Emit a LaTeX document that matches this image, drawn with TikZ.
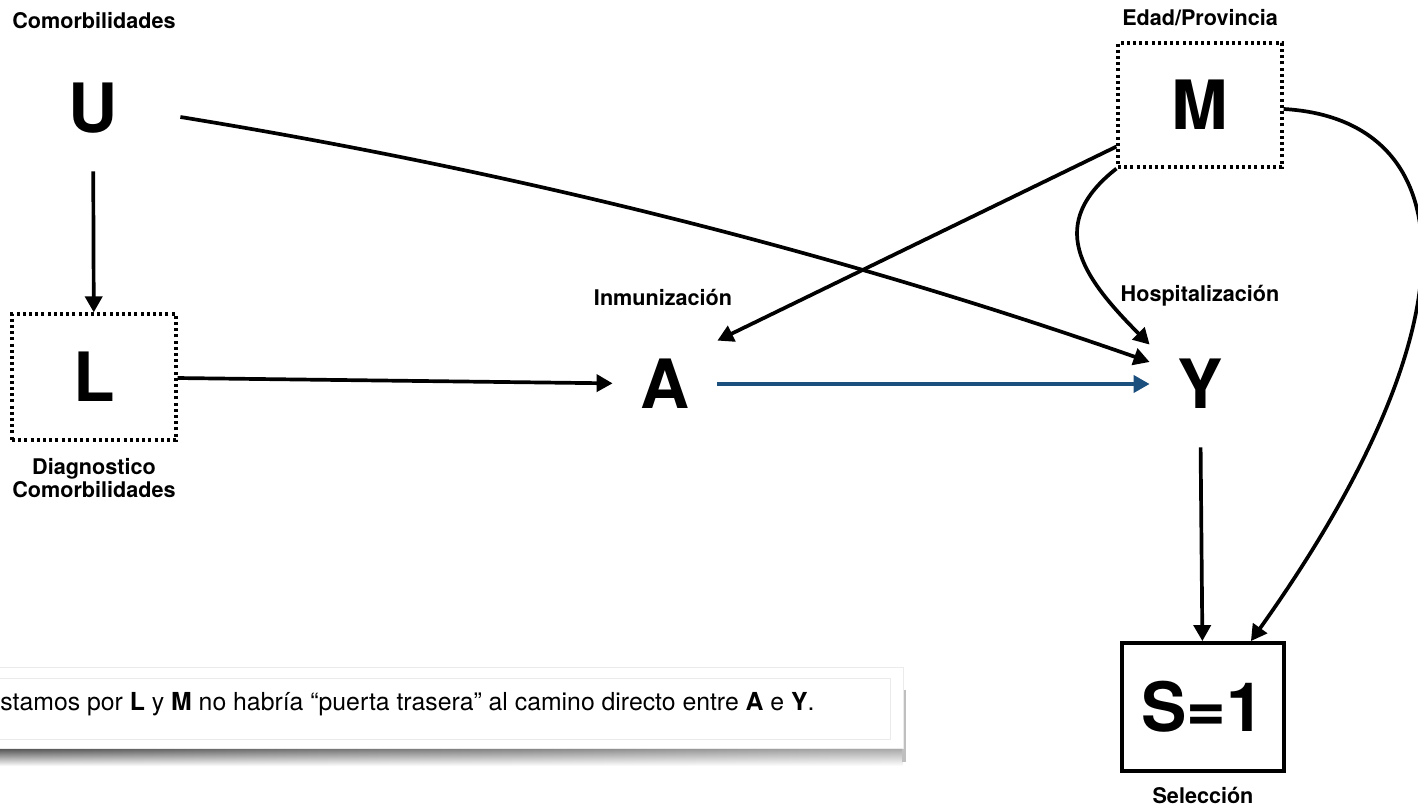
\documentclass[tikz,border=0pt]{standalone}
\usepackage{fontspec}
\setmainfont{TeX Gyre Heros}
\usetikzlibrary{positioning, calc, arrows.meta, fadings}
\definecolor{edgeblue}{HTML}{1B4F7E}

\begin{document}
\begin{tikzpicture}[
x=0.5pt, y=-0.5pt,
    var/.style={minimum width=82pt, minimum height=63pt, inner sep=0pt, font=\fontsize{34}{40}\selectfont\bfseries},
    adjusted/.style={var, draw, line width=1.6pt, dash pattern=on 1.5pt off 1.6pt},
    selected/.style={var, draw, line width=1.9pt, minimum width=81pt, minimum height=64pt},
    vlabel/.style={font=\fontsize{10.8}{11.5}\selectfont\bfseries, align=center, inner sep=0pt},
    line/.style={draw, line width=1.85pt, -{Triangle[length=8pt,width=8.5pt]}},
    notebox/.style={draw=black!8, fill=white, minimum width=456.5pt, minimum height=40.5pt}
]
    \useasboundingbox (0,0) rectangle (1418,807);

    % Variables
    \node[var] (U) at (93,108) {U};
    \node[adjusted] (L) at (94,377) {L};
    \node[var, minimum width=52pt, minimum height=43pt] (A) at (665,384) {A};
    \node[var, minimum width=50pt] (Y) at (1200,384) {Y};
    \node[adjusted, minimum height=62pt] (M) at (1200,105) {M};
    \node[selected] (S) at (1203,707) {S=1};

    % Labels
    \node[vlabel] (lU) at (94,21) {Comorbilidades};
    \node[vlabel] (lL) at (94,478) {Diagnostico\\Comorbilidades};
    \node[vlabel] (lA) at (663,297) {Inmunización};
    \node[vlabel] (lY) at (1200,296) {Hospitalización};
    \node[vlabel] (lM) at (1200,18) {Edad/Provincia};
    \node[vlabel] (lS) at (1203,796) {Selección};

    % Note (with its shadow)
    \shade[left color=black!70, right color=black!35, path fading=south] (-10,748) rectangle (903,766);
    \fill[black!25] (902,690) rectangle (906,762);
    \node[notebox] (note) at (446.5,708) {};
    \draw[black!8] (-10,678) rectangle (890,739);
    \node[anchor=west, inner sep=0pt, font=\fontsize{12.4}{14}\selectfont] (noteText) at (0,704)
        {stamos por \textbf{L} y \textbf{M} no habría “puerta trasera” al camino directo entre \textbf{A} e \textbf{Y}.};

    % Edges
    \draw[line] (U) -- (L);
    \draw[line] (L) -- (A);
    \draw[line, edgeblue] (A) -- (Y);
    \draw[line] ($(U.east)+(5,9)$) .. controls +(350,57) and +(-300,-105) .. ($(Y.west)+(0,-22)$);
    \draw[line] ($(M.south west)+(0,-22)$) -- (A.north east);
    \draw[line] (M.south west) .. controls +(-70,55) and +(-70,-70) .. ($(Y.north west)+(0,24)$);
    \draw[line] ($(M.east)+(0,4)$) .. controls +(175,10) and +(235,-330) .. ($(S.north east)+(-35,0)$);
    \draw[line] (Y) -- (S);

\end{tikzpicture}
\end{document}
